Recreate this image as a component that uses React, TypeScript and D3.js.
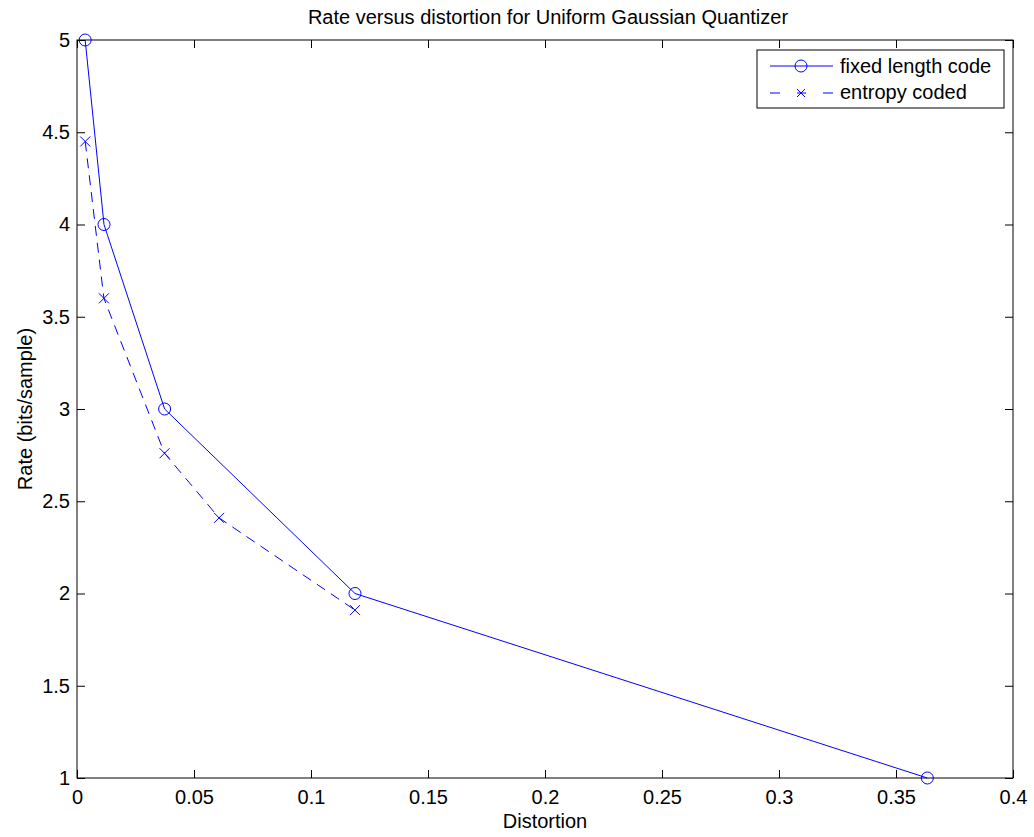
import React, { useEffect, useRef } from "react";
import * as d3 from "d3";

// values
const fixedDistortion = [0.00349, 0.01154, 0.03744, 0.1188, 0.3634];
const fixedRate = [5, 4, 3, 2, 1];
const entropyDistortion = [0.0035, 0.0115, 0.0374, 0.0607, 0.1188];
const entropyRate = [4.45, 3.6, 2.76, 2.41, 1.91];
const xTicks = [0, 0.05, 0.1, 0.15, 0.2, 0.25, 0.3, 0.35, 0.4];
const yTicks = [1, 1.5, 2, 2.5, 3, 3.5, 4, 4.5, 5];

const blue = "#0000ff";
const font = "'Liberation Sans', Arial, Helvetica, sans-serif";
const fontSize = 20;

export default function App() {
  const ref = useRef<SVGSVGElement>(null);

  useEffect(() => {
    const margin = { top: 40, right: 21, bottom: 59, left: 77 },
      width = 1034 - margin.left - margin.right,
      height = 837 - margin.top - margin.bottom;

    const root = d3.select(ref.current);
    root.selectAll("*").remove();
    const svg = root
      .append("g")
      .attr("transform", `translate(${margin.left}, ${margin.top})`);

    const x = d3.scaleLinear().domain([0, 0.4]).range([0, width]);
    const y = d3.scaleLinear().domain([1, 5]).range([height, 0]);

    svg
      .append("rect")
      .attr("width", width)
      .attr("height", height)
      .attr("fill", "white")
      .attr("stroke", "black")
      .attr("stroke-width", 1);

    const tickLen = 8;
    // ticks on all four sides, pointing in
    svg
      .append("g")
      .attr("transform", `translate(0, ${height})`)
      .call(d3.axisBottom(x).tickValues(xTicks).tickSizeInner(-tickLen).tickSizeOuter(0).tickPadding(12).tickFormat(d3.format("")))
      .call((g) => g.select(".domain").remove());
    svg
      .append("g")
      .call(d3.axisTop(x).tickValues(xTicks).tickSizeInner(-tickLen).tickSizeOuter(0).tickFormat(() => ""))
      .call((g) => g.select(".domain").remove());
    svg
      .append("g")
      .call(d3.axisLeft(y).tickValues(yTicks).tickSizeInner(-tickLen).tickSizeOuter(0).tickPadding(7).tickFormat(d3.format("")))
      .call((g) => g.select(".domain").remove());
    svg
      .append("g")
      .attr("transform", `translate(${width}, 0)`)
      .call(d3.axisRight(y).tickValues(yTicks).tickSizeInner(-tickLen).tickSizeOuter(0).tickFormat(() => ""))
      .call((g) => g.select(".domain").remove());

    svg.selectAll(".tick text").attr("font-family", font).attr("font-size", fontSize).attr("fill", "black");
    svg.selectAll(".tick line").attr("stroke", "black");

    const fixed = fixedDistortion.map((d, i) => [d, fixedRate[i]] as [number, number]);
    const entropy = entropyDistortion.map((d, i) => [d, entropyRate[i]] as [number, number]);
    const line = d3
      .line<[number, number]>()
      .x((d) => x(d[0]))
      .y((d) => y(d[1]));

    // fixed length code
    svg
      .append("path")
      .attr("d", line(fixed))
      .attr("fill", "none")
      .attr("stroke", blue)
      .attr("stroke-width", 1);
    svg
      .selectAll(".circ")
      .data(fixed)
      .enter()
      .append("circle")
      .attr("cx", (d) => x(d[0]))
      .attr("cy", (d) => y(d[1]))
      .attr("r", 6)
      .attr("fill", "none")
      .attr("stroke", blue);

    // entropy coded
    svg
      .append("path")
      .attr("d", line(entropy))
      .attr("fill", "none")
      .attr("stroke", blue)
      .attr("stroke-width", 1)
      .attr("stroke-dasharray", "10,7");
    const s = 5;
    svg
      .selectAll(".cross")
      .data(entropy)
      .enter()
      .append("path")
      .attr("d", (d) => {
        const cx = x(d[0]),
          cy = y(d[1]);
        return `M${cx - s},${cy - s}L${cx + s},${cy + s}M${cx - s},${cy + s}L${cx + s},${cy - s}`;
      })
      .attr("stroke", blue)
      .attr("fill", "none");

    // legend
    const lx = 757 - margin.left,
      ly = 50 - margin.top;
    const legend = svg.append("g").attr("transform", `translate(${lx}, ${ly})`);
    legend
      .append("rect")
      .attr("width", 247)
      .attr("height", 58)
      .attr("fill", "white")
      .attr("stroke", "black");
    legend.append("line").attr("x1", 13).attr("x2", 76).attr("y1", 16).attr("y2", 16).attr("stroke", blue);
    legend.append("circle").attr("cx", 44).attr("cy", 16).attr("r", 6).attr("fill", "none").attr("stroke", blue);
    legend
      .append("line")
      .attr("x1", 13)
      .attr("x2", 76)
      .attr("y1", 43)
      .attr("y2", 43)
      .attr("stroke", blue)
      .attr("stroke-dasharray", "10,17,9,17,10");
    legend
      .append("path")
      .attr("d", `M${44 - 4},${43 - 4}L${44 + 4},${43 + 4}M${44 - 4},${43 + 4}L${44 + 4},${43 - 4}`)
      .attr("stroke", blue);
    legend
      .append("text")
      .attr("x", 83)
      .attr("y", 23)
      .attr("font-family", font)
      .attr("font-size", fontSize)
      .text("fixed length code");
    legend
      .append("text")
      .attr("x", 83)
      .attr("y", 49)
      .attr("font-family", font)
      .attr("font-size", fontSize)
      .text("entropy coded");

    // titles
    root
      .append("text")
      .attr("x", margin.left + width / 2 + 3)
      .attr("y", 24)
      .attr("text-anchor", "middle")
      .attr("font-family", font)
      .attr("font-size", fontSize)
      .text("Rate versus distortion for Uniform Gaussian Quantizer");
    root
      .append("text")
      .attr("x", margin.left + width / 2)
      .attr("y", 828)
      .attr("text-anchor", "middle")
      .attr("font-family", font)
      .attr("font-size", fontSize)
      .text("Distortion");
    root
      .append("text")
      .attr("transform", `translate(32, ${margin.top + height / 2}) rotate(-90)`)
      .attr("text-anchor", "middle")
      .attr("font-family", font)
      .attr("font-size", fontSize)
      .text("Rate (bits/sample)");
  }, []);

  return (
    <svg
      ref={ref}
      width={1034}
      height={837}
      style={{ position: "absolute", left: 0, top: 0, background: "white" }}
    ></svg>
  );
}
